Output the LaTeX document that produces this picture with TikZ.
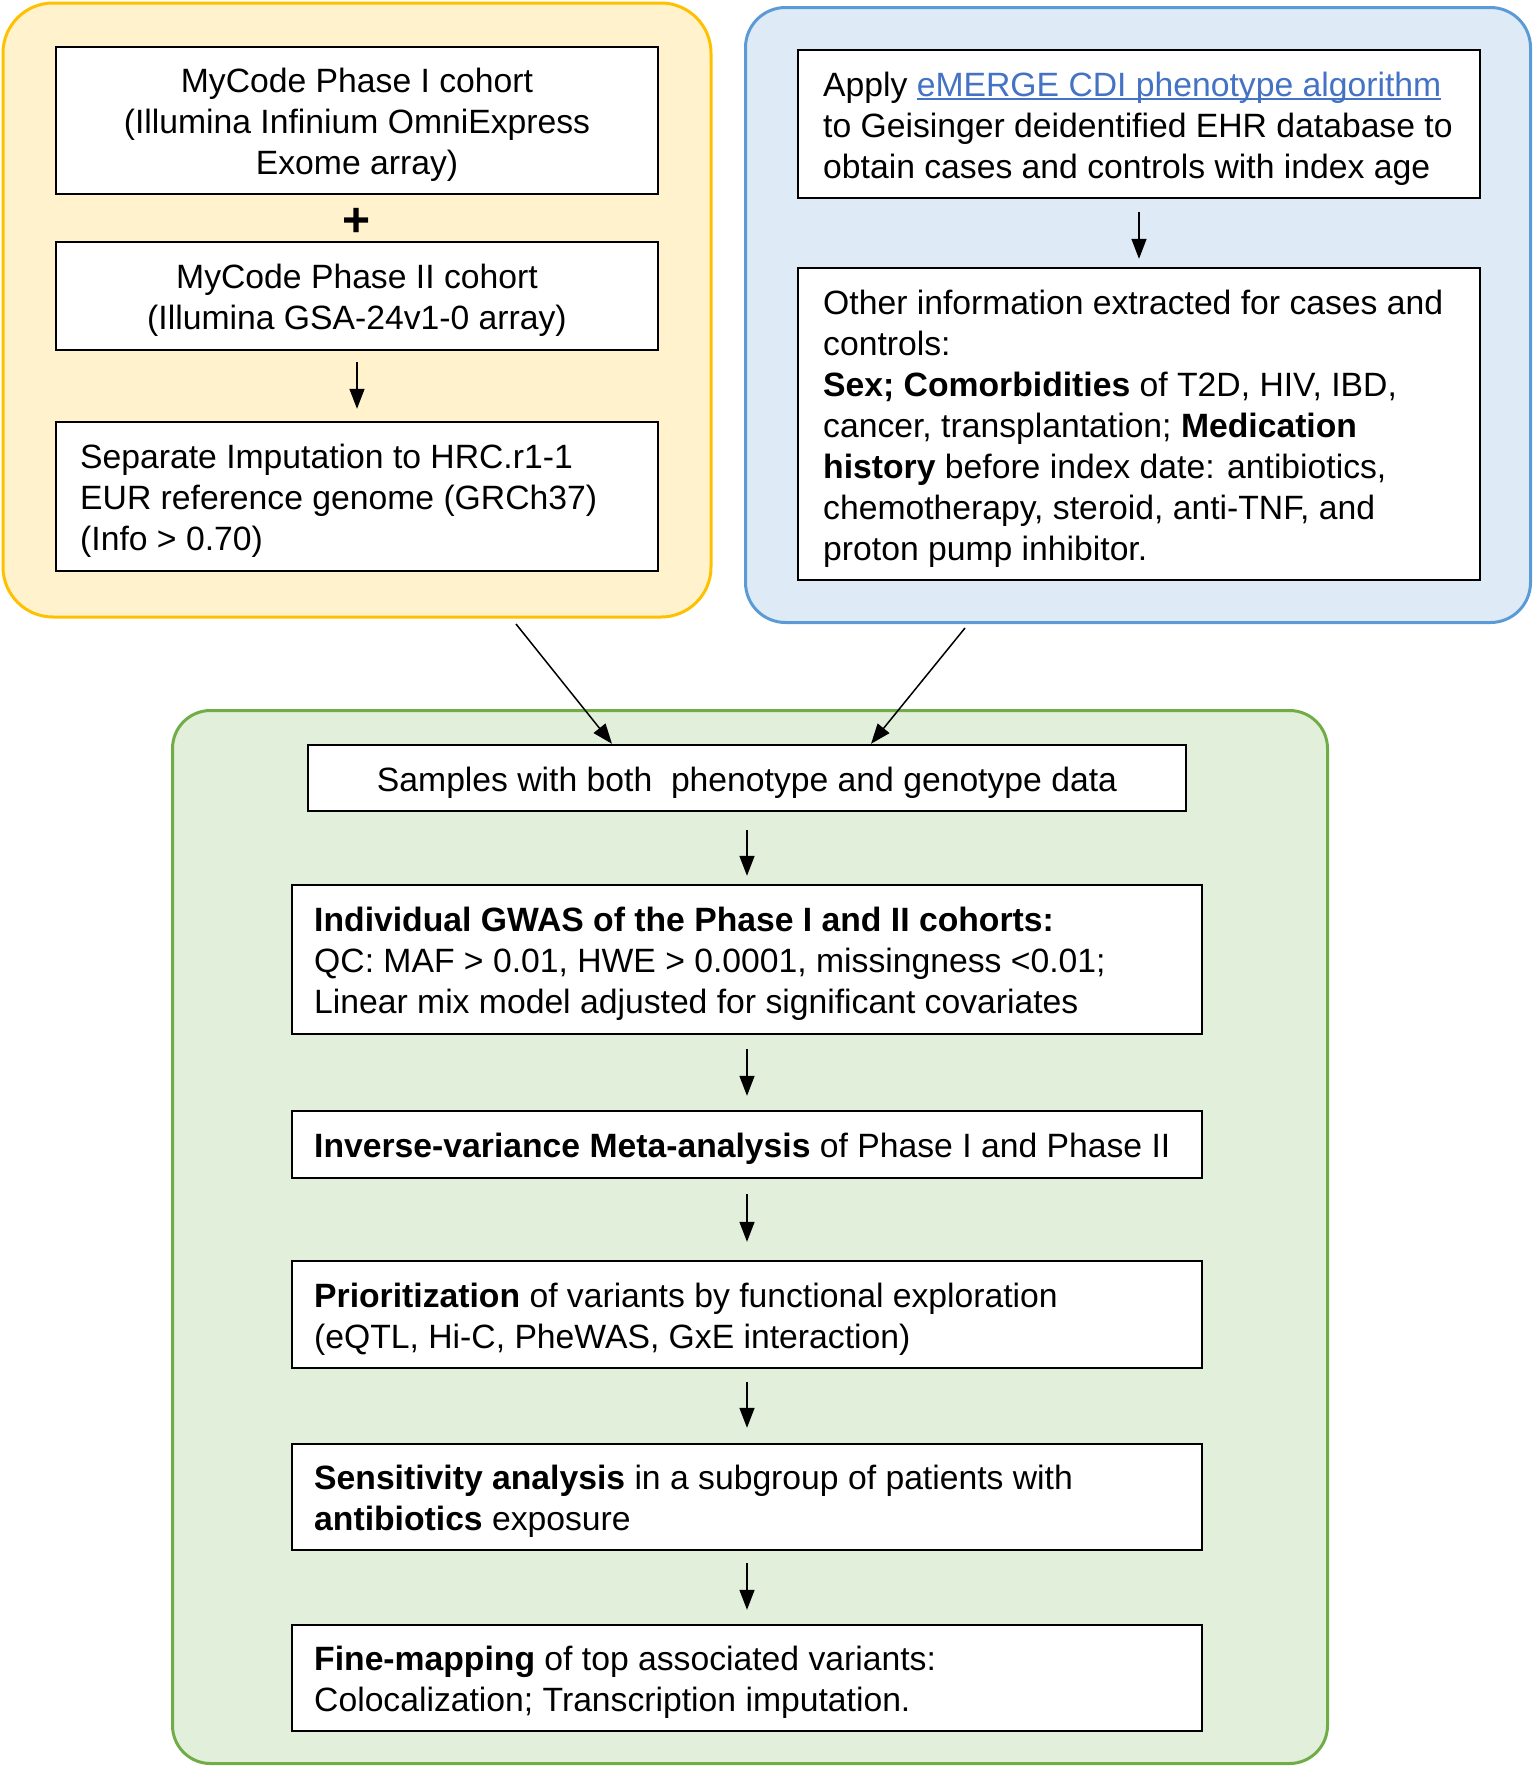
\documentclass[tikz,border=0pt]{standalone}
\usepackage{fontspec}
\setmainfont{Liberation Sans}
\usetikzlibrary{arrows.meta,calc}
\definecolor{yfill}{HTML}{FFF2CC}
\definecolor{ydraw}{HTML}{FFC000}
\definecolor{bfill}{HTML}{DEEBF7}
\definecolor{bdraw}{HTML}{5B9BD5}
\definecolor{gfill}{HTML}{E2EFDA}
\definecolor{gdraw}{HTML}{70AD47}
\definecolor{linkc}{HTML}{4472C4}
\newcommand\myul[1]{\setbox0\hbox{#1}\rlap{\rule[-2pt]{\wd0}{0.9pt}}\box0}
\begin{document}
\begin{tikzpicture}[x=0.5pt,y=-0.5pt,
  panel/.style={line width=1.5pt, inner sep=0pt},
  stepbox/.style={draw=black, fill=white, line width=1.2pt, inner sep=0pt},
  txt/.style={font=\fontsize{16.85}{20.5}\selectfont, inner sep=0pt, align=left, anchor=west, yshift=-2.2pt},
  ctxt/.style={font=\fontsize{16.85}{20.5}\selectfont, inner sep=0pt, align=center, yshift=-2.2pt},
  arr/.style={-{Triangle[length=10pt,width=7.5pt]}, line width=0.75pt}
]
\useasboundingbox (0,0) rectangle (1535,1768);

% panels
\node[panel, draw=ydraw, fill=yfill, rounded corners=25pt, minimum width=354pt, minimum height=307pt] (ypanel) at (357,310) {};
\node[panel, draw=bdraw, fill=bfill, rounded corners=20pt, minimum width=392.5pt, minimum height=307.5pt] (bpanel) at (1138,315) {};
\node[panel, draw=gdraw, fill=gfill, rounded corners=19pt, minimum width=577.5pt, minimum height=526.5pt] (gpanel) at (750,1237) {};

% yellow panel
\node[stepbox, minimum width=301pt, minimum height=73.5pt] (b1) at (357,120.5) {};
\node[ctxt] (t1) at (b1) {MyCode Phase I cohort\\(Illumina Infinium OmniExpress\\Exome array)};
\node[font=\bfseries\fontsize{24}{24}\selectfont, inner sep=0pt] (plus) at (357,222) {+};
\node[stepbox, minimum width=301pt, minimum height=54pt] (b2) at (357,296) {};
\node[ctxt] (t2) at (b2) {MyCode Phase II cohort\\(Illumina GSA-24v1-0 array)};
\node[stepbox, minimum width=301pt, minimum height=74.5pt] (b3) at (357,496.5) {};
\node[txt] (t3) at ($(b3.west)+(25,0)$)
  {Separate Imputation to HRC.r1-1\\EUR reference genome (GRCh37)\\(Info > 0.70)};

% blue panel
\node[stepbox, minimum width=341pt, minimum height=74pt] (b4) at (1139,124) {};
\node[txt] (t4) at ($(b4.west)+(26,0)$)
  {Apply \textcolor{linkc}{\myul{eMERGE CDI phenotype algorithm}}\\to Geisinger deidentified EHR database to\\obtain cases and controls with index age};
\node[stepbox, minimum width=341pt, minimum height=156pt] (b5) at (1139,424) {};
\node[txt] (t5) at ($(b5.west)+(26,0)$)
  {Other information extracted for cases and\\controls:\\\textbf{Sex; Comorbidities} of T2D, HIV, IBD,\\cancer, transplantation; \textbf{Medication}\\\textbf{history} before index date: antibiotics,\\chemotherapy, steroid, anti-TNF, and\\proton pump inhibitor.};

% green panel
\node[stepbox, minimum width=439pt, minimum height=33pt] (b6) at (747,778) {};
\node[ctxt] (t6) at (b6) {Samples with both~ phenotype and genotype data};
\node[stepbox, minimum width=455pt, minimum height=74.5pt] (b7) at (747,959.5) {};
\node[txt] (t7) at ($(b7.west)+(23,0)$)
  {\textbf{Individual GWAS of the Phase I and II cohorts:}\\QC: MAF > 0.01, HWE > 0.0001, missingness <0.01;\\Linear mix model adjusted for significant covariates};
\node[stepbox, minimum width=455pt, minimum height=33.5pt] (b8) at (747,1144.5) {};
\node[txt] (t8) at ($(b8.west)+(23,0)$)
  {\textbf{Inverse-variance Meta-analysis} of Phase I and Phase II};
\node[stepbox, minimum width=455pt, minimum height=53.5pt] (b9) at (747,1314.5) {};
\node[txt] (t9) at ($(b9.west)+(23,0)$)
  {\textbf{Prioritization} of variants by functional exploration\\(eQTL, Hi-C, PheWAS, GxE interaction)};
\node[stepbox, minimum width=455pt, minimum height=53pt] (b10) at (747,1497) {};
\node[txt] (t10) at ($(b10.west)+(23,0)$)
  {\textbf{Sensitivity analysis} in a subgroup of patients with\\\textbf{antibiotics} exposure};
\node[stepbox, minimum width=455pt, minimum height=53pt] (b11) at (747,1678) {};
\node[txt] (t11) at ($(b11.west)+(23,0)$)
  {\textbf{Fine-mapping} of top associated variants:\\Colocalization; Transcription imputation.};

% connectors
\draw[arr, shorten <=5.5pt, shorten >=6pt] (b2) -- (b3);
\draw[arr, shorten <=6.5pt, shorten >=4pt] (b4) -- (b5);
\coordinate (ya) at (516,624);
\coordinate (ba) at (965,628);
\draw[arr] (ya) -- ([xshift=-67.5pt]b6.north);
\draw[arr] (ba) -- ([xshift=62pt]b6.north);
\draw[arr, shorten <=9pt, shorten >=4pt] (b6) -- (b7);
\draw[arr, shorten <=7pt, shorten >=7pt] (b7) -- (b8);
\draw[arr, shorten <=7.5pt, shorten >=9pt] (b8) -- (b9);
\draw[arr, shorten <=6.5pt, shorten >=7.5pt] (b9) -- (b10);
\draw[arr, shorten <=6pt, shorten >=7pt] (b10) -- (b11);
\end{tikzpicture}
\end{document}
